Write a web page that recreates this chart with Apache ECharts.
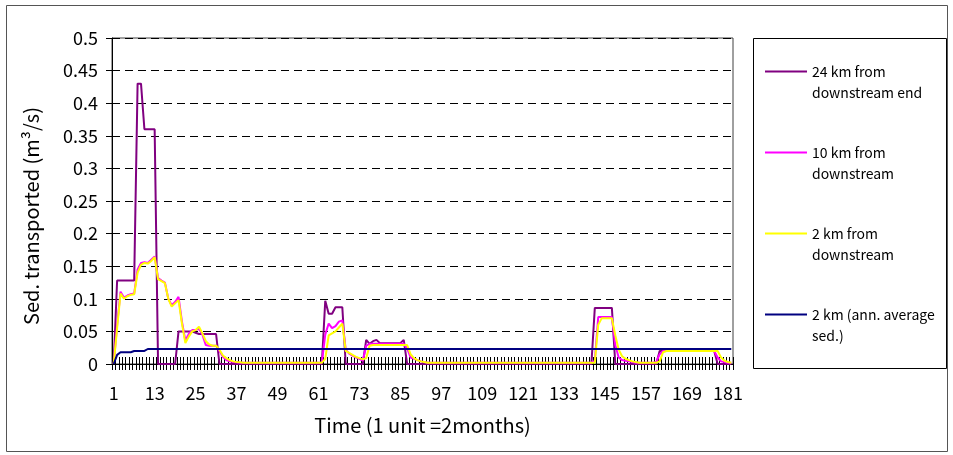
<!DOCTYPE html>
<html><head><meta charset="utf-8">
<script src="https://cdn.jsdelivr.net/npm/echarts@6/dist/echarts.min.js"></script>
<style>html,body{margin:0;padding:0;background:#fff}#c{width:953px;height:455px}</style>
</head><body><div id="c"></div>
<script>
// Time categories (1 unit = 2 months)
const categories = Array.from({length: 182}, (_, i) => String(i + 1));

const seriesNames = [
  '24 km from\ndownstream end',
  '10 km from\ndownstream',
  '2 km from\ndownstream',
  '2 km (ann. average\nsed.)'
];

const km24 = [
  0, 0.128, 0.128, 0.128, 0.128, 0.128, 0.128, 0.43, 0.43, 0.36,
  0.36, 0.36, 0.36, 0, 0, 0, 0, 0, 0, 0.05,
  0.05, 0.05, 0.05, 0.05, 0.048, 0.046, 0.046, 0.046, 0.046, 0.046,
  0.046, 0, 0, 0, 0, 0, 0, 0, 0, 0,
  0, 0, 0, 0, 0, 0, 0, 0, 0, 0,
  0, 0, 0, 0, 0, 0, 0, 0, 0, 0,
  0, 0, 0.097, 0.077, 0.077, 0.087, 0.087, 0.087, 0, 0,
  0, 0, 0, 0, 0.037, 0.031, 0.035, 0.037, 0.032, 0.032,
  0.032, 0.032, 0.032, 0.032, 0.032, 0.037, 0, 0, 0, 0,
  0, 0, 0, 0, 0, 0, 0, 0, 0, 0,
  0, 0, 0, 0, 0, 0, 0, 0, 0, 0,
  0, 0, 0, 0, 0, 0, 0, 0, 0, 0,
  0, 0, 0, 0, 0, 0, 0, 0, 0, 0,
  0, 0, 0, 0, 0, 0, 0, 0, 0, 0,
  0, 0.086, 0.086, 0.086, 0.086, 0.086, 0.086, 0, 0, 0,
  0, 0, 0, 0, 0, 0, 0, 0, 0, 0,
  0.02, 0.02, 0.02, 0.02, 0.02, 0.02, 0.02, 0.02, 0.02, 0.02,
  0.02, 0.02, 0.02, 0.02, 0.02, 0.02, 0.02, 0, 0, 0,
  0, 0
];

const km10 = [
  0, 0.06, 0.111, 0.102, 0.105, 0.107, 0.108, 0.145, 0.155, 0.156,
  0.155, 0.16, 0.165, 0.132, 0.128, 0.125, 0.1, 0.09, 0.095, 0.103,
  0.065, 0.036, 0.046, 0.052, 0.052, 0.054, 0.045, 0.029, 0.028, 0.028,
  0.028, 0.02, 0.011, 0.006, 0.004, 0.003, 0.0025, 0.002, 0.002, 0.002,
  0.002, 0.002, 0.002, 0.002, 0.002, 0.002, 0.002, 0.002, 0.002, 0.002,
  0.002, 0.002, 0.002, 0.002, 0.002, 0.002, 0.002, 0.002, 0.002, 0.002,
  0.002, 0.002, 0.045, 0.062, 0.055, 0.058, 0.065, 0.067, 0.022, 0.016,
  0.013, 0.01, 0.008, 0.005, 0.028, 0.031, 0.031, 0.031, 0.031, 0.031,
  0.031, 0.031, 0.031, 0.031, 0.031, 0.031, 0.024, 0.01, 0.008, 0.006,
  0.004, 0.003, 0.002, 0.002, 0.002, 0.002, 0.002, 0.002, 0.002, 0.002,
  0.002, 0.002, 0.002, 0.002, 0.002, 0.002, 0.002, 0.002, 0.002, 0.002,
  0.002, 0.002, 0.002, 0.002, 0.002, 0.002, 0.002, 0.002, 0.002, 0.002,
  0.002, 0.002, 0.002, 0.002, 0.002, 0.002, 0.002, 0.002, 0.002, 0.002,
  0.002, 0.002, 0.002, 0.002, 0.002, 0.002, 0.002, 0.002, 0.002, 0.002,
  0.002, 0.005, 0.072, 0.072, 0.072, 0.072, 0.072, 0.029, 0.01, 0.006,
  0.005, 0.004, 0.003, 0.002, 0.002, 0.002, 0.002, 0.002, 0.002, 0.003,
  0.015, 0.02, 0.02, 0.02, 0.02, 0.02, 0.02, 0.02, 0.02, 0.02,
  0.02, 0.02, 0.02, 0.02, 0.02, 0.02, 0.02, 0.01, 0.004, 0.003,
  0.002, 0.002
];

const km2 = [
  0, 0.055, 0.108, 0.1, 0.104, 0.106, 0.107, 0.14, 0.152, 0.155,
  0.154, 0.158, 0.164, 0.13, 0.127, 0.124, 0.1, 0.088, 0.093, 0.098,
  0.062, 0.032, 0.042, 0.05, 0.052, 0.057, 0.047, 0.035, 0.03, 0.028,
  0.028, 0.022, 0.013, 0.009, 0.006, 0.004, 0.003, 0.0025, 0.002, 0.002,
  0.002, 0.002, 0.002, 0.002, 0.002, 0.002, 0.002, 0.002, 0.002, 0.002,
  0.002, 0.002, 0.002, 0.002, 0.002, 0.002, 0.002, 0.002, 0.002, 0.002,
  0.002, 0.002, 0.008, 0.044, 0.047, 0.05, 0.056, 0.062, 0.02, 0.017,
  0.014, 0.011, 0.009, 0.007, 0.009, 0.028, 0.029, 0.029, 0.029, 0.029,
  0.029, 0.029, 0.029, 0.029, 0.029, 0.029, 0.029, 0.015, 0.009, 0.006,
  0.004, 0.003, 0.002, 0.002, 0.002, 0.002, 0.002, 0.002, 0.002, 0.002,
  0.002, 0.002, 0.002, 0.002, 0.002, 0.002, 0.002, 0.002, 0.002, 0.002,
  0.002, 0.002, 0.002, 0.002, 0.002, 0.002, 0.002, 0.002, 0.002, 0.002,
  0.002, 0.002, 0.002, 0.002, 0.002, 0.002, 0.002, 0.002, 0.002, 0.002,
  0.002, 0.002, 0.002, 0.002, 0.002, 0.002, 0.002, 0.002, 0.002, 0.002,
  0.002, 0.002, 0.06, 0.07, 0.07, 0.07, 0.07, 0.044, 0.022, 0.012,
  0.008, 0.006, 0.004, 0.003, 0.002, 0.002, 0.002, 0.002, 0.002, 0.002,
  0.004, 0.018, 0.02, 0.02, 0.02, 0.02, 0.02, 0.02, 0.02, 0.02,
  0.02, 0.02, 0.02, 0.02, 0.02, 0.02, 0.02, 0.02, 0.01, 0.005,
  0.003, 0.002
];

const km2Avg = [
  0, 0.014, 0.018, 0.018, 0.018, 0.018, 0.02, 0.02, 0.02, 0.02,
  0.023, 0.023, 0.023, 0.023, 0.023, 0.023, 0.023, 0.023, 0.023, 0.023,
  0.023, 0.023, 0.023, 0.023, 0.023, 0.023, 0.023, 0.023, 0.023, 0.023,
  0.023, 0.023, 0.023, 0.023, 0.023, 0.023, 0.023, 0.023, 0.023, 0.023,
  0.023, 0.023, 0.023, 0.023, 0.023, 0.023, 0.023, 0.023, 0.023, 0.023,
  0.023, 0.023, 0.023, 0.023, 0.023, 0.023, 0.023, 0.023, 0.023, 0.023,
  0.023, 0.023, 0.023, 0.023, 0.023, 0.023, 0.023, 0.023, 0.023, 0.023,
  0.023, 0.023, 0.023, 0.023, 0.023, 0.023, 0.023, 0.023, 0.023, 0.023,
  0.023, 0.023, 0.023, 0.023, 0.023, 0.023, 0.023, 0.023, 0.023, 0.023,
  0.023, 0.023, 0.023, 0.023, 0.023, 0.023, 0.023, 0.023, 0.023, 0.023,
  0.023, 0.023, 0.023, 0.023, 0.023, 0.023, 0.023, 0.023, 0.023, 0.023,
  0.023, 0.023, 0.023, 0.023, 0.023, 0.023, 0.023, 0.023, 0.023, 0.023,
  0.023, 0.023, 0.023, 0.023, 0.023, 0.023, 0.023, 0.023, 0.023, 0.023,
  0.023, 0.023, 0.023, 0.023, 0.023, 0.023, 0.023, 0.023, 0.023, 0.023,
  0.023, 0.023, 0.023, 0.023, 0.023, 0.023, 0.023, 0.023, 0.023, 0.023,
  0.023, 0.023, 0.023, 0.023, 0.023, 0.023, 0.023, 0.023, 0.023, 0.023,
  0.023, 0.023, 0.023, 0.023, 0.023, 0.023, 0.023, 0.023, 0.023, 0.023,
  0.023, 0.023, 0.023, 0.023, 0.023, 0.023, 0.023, 0.023, 0.023, 0.023,
  0.023, 0.023
];

const seriesData = [km24, km10, km2, km2Avg];
const seriesColors = ['#800080', '#FF00FF', '#FFFF00', '#000080'];

const FONT = '"Noto Sans CJK JP", "Noto Sans", sans-serif';
const chart = echarts.init(document.getElementById('c'), null, {renderer: 'canvas'});

const option = {
  animation: false,
  backgroundColor: '#fff',
  grid: {left: 112, top: 38, right: 220, bottom: 91, show: true, borderColor: '#404040', borderWidth: 1},
  xAxis: [{
    type: 'category', data: categories, boundaryGap: true,
    axisLine: {lineStyle: {color: '#000', width: 1}},
    axisTick: {show: true, interval: 0, length: 6, lineStyle: {color: '#000', width: 1}},
    axisLabel: {interval: 11, margin: 20, fontSize: 18, color: '#000', fontFamily: FONT},
    splitLine: {show: false},
    name: 'Time (1 unit =2months)', nameLocation: 'middle', nameGap: 51,
    nameTextStyle: {fontSize: 20, color: '#000', fontFamily: FONT}
  }, {
    type: 'category', data: categories, boundaryGap: true, position: 'bottom',
    axisLine: {show: false},
    axisTick: {show: true, inside: true, interval: 0, length: 7, lineStyle: {color: '#000', width: 1}},
    axisLabel: {show: false}, splitLine: {show: false}
  }],
  yAxis: {
    type: 'value', min: 0, max: 0.5, interval: 0.05,
    axisLine: {show: true, lineStyle: {color: '#000', width: 1}},
    axisTick: {show: true, length: 6, lineStyle: {color: '#000'}},
    axisLabel: {margin: 14, fontSize: 18, color: '#000', fontFamily: FONT},
    splitLine: {show: true, lineStyle: {color: '#000', width: 1, type: [8, 5]}},
    name: 'Sed. transported (m³/s)', nameLocation: 'middle', nameGap: 71, nameRotate: 90,
    nameTextStyle: {fontSize: 20, color: '#000', fontFamily: FONT, padding: [0, 30, 0, 0]}
  },
  legend: {
    orient: 'vertical', left: 765, top: 40, padding: 0,
    icon: 'rect', itemWidth: 42, itemHeight: 2, itemGap: 18,
    formatter: name => '\u00a0\n' + name,
    textStyle: {fontSize: 14, lineHeight: 21, color: '#000', fontFamily: FONT},
    data: seriesNames
  },
  graphic: [
    {type: 'rect', shape: {x: 6.5, y: 5.5, width: 941, height: 446}, style: {fill: 'none', stroke: '#555', lineWidth: 1}, silent: true},
    {type: 'rect', shape: {x: 753.5, y: 38.5, width: 193, height: 330}, style: {fill: 'none', stroke: '#000', lineWidth: 1}, silent: true}
  ],
  series: seriesNames.map((n, k) => ({
    name: n, type: 'line', data: seriesData[k], xAxisIndex: 0,
    symbol: 'none', showSymbol: false, smooth: false,
    lineStyle: {color: seriesColors[k], width: 2},
    itemStyle: {color: seriesColors[k]}
  }))
};
chart.setOption(option);
</script>
</body></html>
